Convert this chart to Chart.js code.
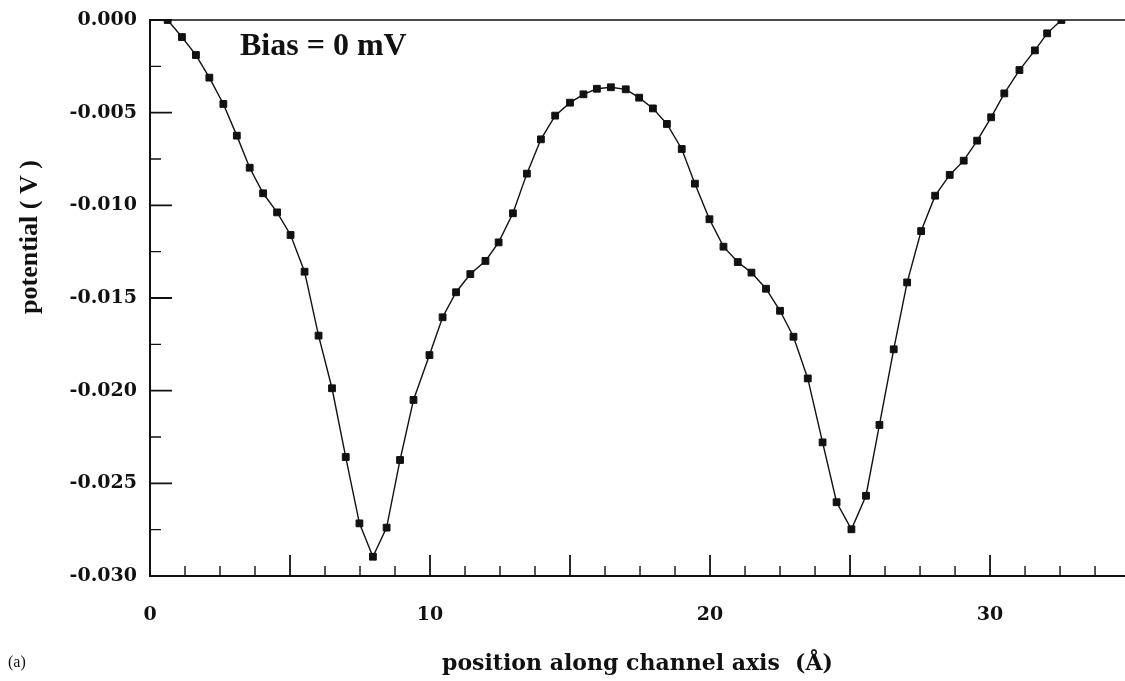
<!DOCTYPE html>
<html>
<head>
<meta charset="utf-8">
<script src="https://cdn.jsdelivr.net/npm/chart.js@4/dist/chart.umd.min.js"></script>
<style>
  html, body { margin: 0; padding: 0; background: #fff; }
  #wrap { width: 1125px; height: 681px; }
</style>
</head>
<body>
<div id="wrap"><canvas id="myChart" width="1125" height="681"></canvas></div>
<script>
'use strict';

// positions along the channel axis (Å)
const xPos = [0.63, 1.14, 1.64, 2.12, 2.62, 3.10, 3.56, 4.04, 4.54, 5.02, 5.52, 6.02,
  6.50, 6.99, 7.48, 7.96, 8.45, 8.93, 9.41, 9.98, 10.45, 10.93, 11.44, 11.98,
  12.45, 12.96, 13.46, 13.96, 14.47, 15.00, 15.48, 15.96, 16.46, 16.99, 17.47,
  17.96, 18.46, 18.99, 19.46, 19.98, 20.48, 20.99, 21.48, 22.00, 22.50, 22.98,
  23.49, 24.02, 24.52, 25.05, 25.57, 26.05, 26.56, 27.04, 27.54, 28.04, 28.56,
  29.06, 29.54, 30.04, 30.51, 31.05, 31.60, 32.04, 32.55];

// potential (V) at each position
const potential = [0.0000, -0.00092, -0.00189, -0.00311, -0.00453, -0.00624, -0.00797,
  -0.00935, -0.01038, -0.01160, -0.01358, -0.01703, -0.01987, -0.02358, -0.02716,
  -0.02896, -0.02739, -0.02374, -0.02050, -0.01808, -0.01604, -0.01469, -0.01371,
  -0.01300, -0.01200, -0.01043, -0.00829, -0.00644, -0.00516, -0.00446, -0.00401,
  -0.00371, -0.00363, -0.00374, -0.00419, -0.00477, -0.00561, -0.00696, -0.00883,
  -0.01075, -0.01223, -0.01306, -0.01363, -0.01450, -0.01569, -0.01709, -0.01934,
  -0.02279, -0.02602, -0.02748, -0.02567, -0.02185, -0.01777, -0.01416, -0.01139,
  -0.00948, -0.00836, -0.00759, -0.00651, -0.00525, -0.00396, -0.00270, -0.00164,
  -0.00072, 0.0000];

// tick values
const xLabelTicks = [0, 10, 20, 30];
const xMajorTicks = [5, 10, 15, 20, 25, 30];
const xMinorTicks = [1.25, 2.5, 3.75, 6.25, 7.5, 8.75, 11.25, 12.5, 13.75, 16.25, 17.5,
  18.75, 21.25, 22.5, 23.75, 26.25, 27.5, 28.75, 31.25, 32.5, 33.75];
const yLabelTicks = [0, -0.005, -0.010, -0.015, -0.020, -0.025, -0.030];
const yMinorTicks = [-0.0025, -0.0075, -0.0125, -0.0175, -0.0225, -0.0275];

const serif = '"Liberation Serif", "Times New Roman", serif';
const wide = '"DejaVu Serif", serif';
const ink = '#111';

// inward ticks, top line and the free texts
const axisDecor = {
  id: 'axisDecor',
  afterDraw(chart) {
    const ctx = chart.ctx;
    const a = chart.chartArea;
    const x = chart.scales.x;
    const y = chart.scales.y;
    ctx.save();
    ctx.strokeStyle = ink;
    ctx.lineWidth = 1.5;
    ctx.beginPath();
    ctx.moveTo(a.left, y.getPixelForValue(0));
    ctx.lineTo(a.right, y.getPixelForValue(0));
    ctx.stroke();

    ctx.lineWidth = 1.8;
    ctx.beginPath();
    for (const v of xMajorTicks) {
      const px = x.getPixelForValue(v);
      ctx.moveTo(px, a.bottom); ctx.lineTo(px, a.bottom - 21);
    }
    for (const v of yLabelTicks) {
      const py = y.getPixelForValue(v);
      ctx.moveTo(a.left, py); ctx.lineTo(a.left + 22, py);
    }
    ctx.stroke();
    ctx.lineWidth = 1.4;
    ctx.beginPath();
    for (const v of xMinorTicks) {
      const px = x.getPixelForValue(v);
      ctx.moveTo(px, a.bottom); ctx.lineTo(px, a.bottom - 10);
    }
    for (const v of yMinorTicks) {
      const py = y.getPixelForValue(v);
      ctx.moveTo(a.left, py); ctx.lineTo(a.left + 11, py);
    }
    ctx.stroke();

    ctx.fillStyle = ink;
    ctx.font = 'bold 32px ' + serif;
    ctx.textBaseline = 'middle';
    ctx.textAlign = 'left';
    ctx.fillText('Bias = 0 mV', 240, 47);

    ctx.font = '16px ' + serif;
    ctx.fillText('(a)', 8, 663);

    ctx.translate(30, 237);
    ctx.rotate(-Math.PI / 2);
    ctx.textAlign = 'center';
    ctx.font = 'bold 26px ' + serif;
    ctx.fillText('potential ( V )', 0, 0);
    ctx.restore();
  }
};

const points = xPos.map((v, i) => ({x: v, y: potential[i]}));

new Chart(document.getElementById('myChart'), {
  type: 'line',
  data: {
    datasets: [{
      data: points,
      borderColor: ink,
      borderWidth: 1.4,
      backgroundColor: ink,
      pointStyle: 'rect',
      pointRadius: 4.8,
      pointBorderWidth: 1,
      pointBorderColor: ink,
      pointBackgroundColor: ink,
      tension: 0
    }]
  },
  options: {
    responsive: false,
    animation: false,
    events: [],
    layout: {autoPadding: false, padding: {top: 20, right: 0, left: 0, bottom: 0}},
    plugins: {legend: {display: false}, tooltip: {enabled: false}},
    scales: {
      x: {
        type: 'linear',
        min: 0,
        max: 34.82,
        afterFit(scale) {
          scale.height = 105;
          scale.paddingLeft = 0;
          scale.paddingRight = 0;
        },
        afterBuildTicks(scale) { scale.ticks = xLabelTicks.map(v => ({value: v})); },
        grid: {display: false, drawTicks: false},
        border: {display: true, color: ink, width: 2},
        ticks: {
          color: ink,
          padding: 28,
          maxRotation: 0,
          font: {family: wide, size: 19, weight: 'bold'}
        },
        title: {
          display: true,
          text: 'position along channel axis  (Å)',
          color: ink,
          font: {family: wide, size: 22, weight: 'bold'},
          padding: {top: 0, bottom: 4}
        }
      },
      y: {
        min: -0.030,
        max: 0,
        afterFit(scale) {
          scale.width = 150;
          scale.paddingTop = 0;
          scale.paddingBottom = 0;
        },
        afterBuildTicks(scale) { scale.ticks = yLabelTicks.map(v => ({value: v})); },
        grid: {display: false, drawTicks: false},
        border: {display: true, color: ink, width: 2},
        ticks: {
          color: ink,
          padding: 13,
          font: {family: wide, size: 19, weight: 'bold'},
          callback: v => (Math.abs(v) < 1e-9 ? 0 : v).toFixed(3)
        }
      }
    }
  },
  plugins: [axisDecor]
});
</script>
</body>
</html>
